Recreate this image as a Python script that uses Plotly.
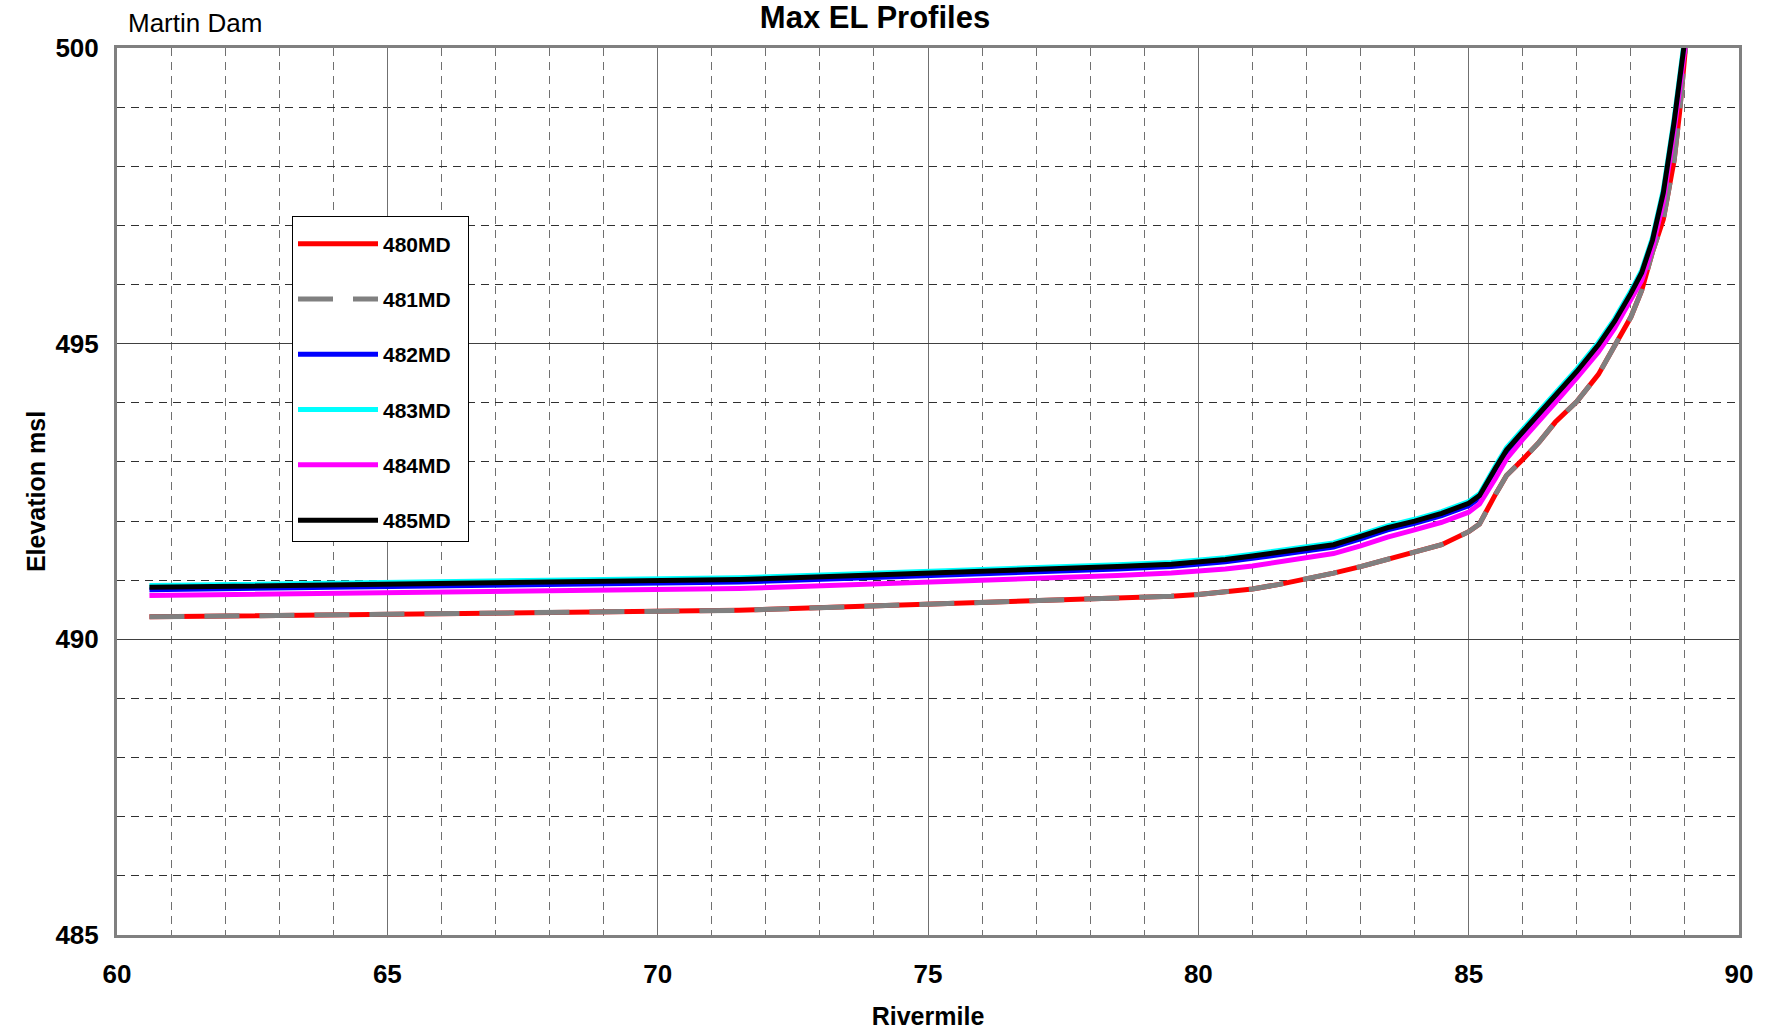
import plotly.graph_objects as go

rivermile = [60.6, 61.5, 62.5, 63.5, 64.5, 65.5, 66.5, 67.5, 68.5, 69.5, 70.5, 71.5, 72.5, 73.5,
             74.5, 75.5, 76.5, 77.5, 78.5, 79.5, 80.0, 80.5, 81.0, 81.5, 82.0, 82.5, 83.0, 83.5,
             84.0, 84.5, 85.0, 85.2, 85.5, 85.7, 86.0, 86.3, 86.6, 87.0, 87.4, 87.7, 88.0, 88.2,
             88.4, 88.6, 88.8, 88.9, 89.0, 89.05]

el_480 = [490.38, 490.39, 490.40, 490.41, 490.42, 490.43, 490.44, 490.45, 490.46, 490.46, 490.47,
          490.49, 490.52, 490.55, 490.58, 490.61, 490.63, 490.66, 490.69, 490.73, 490.76, 490.80,
          490.85, 490.93, 491.02, 491.12, 491.23, 491.36, 491.48, 491.60, 491.82, 491.95, 492.46,
          492.77, 493.04, 493.33, 493.67, 494.02, 494.48, 494.95, 495.45, 495.90, 496.55, 497.10,
          498.10, 498.90, 499.80, 500.40]
el_481 = [490.38, 490.39, 490.40, 490.41, 490.42, 490.43, 490.44, 490.45, 490.46, 490.46, 490.47,
          490.49, 490.52, 490.55, 490.58, 490.61, 490.63, 490.66, 490.69, 490.73, 490.76, 490.80,
          490.85, 490.93, 491.02, 491.12, 491.23, 491.36, 491.48, 491.60, 491.82, 491.95, 492.46,
          492.77, 493.04, 493.33, 493.67, 494.02, 494.48, 494.95, 495.45, 495.90, 496.55, 497.10,
          498.10, 498.90, 499.80, 500.40]
el_482 = [490.84, 490.85, 490.86, 490.87, 490.88, 490.89, 490.90, 490.91, 490.92, 490.93, 490.94,
          490.97, 491.00, 491.03, 491.06, 491.08, 491.11, 491.15, 491.19, 491.23, 491.26, 491.31,
          491.37, 491.43, 491.49, 491.56, 491.70, 491.85, 491.96, 492.09, 492.26, 492.39, 492.87,
          493.17, 493.48, 493.78, 494.09, 494.50, 494.95, 495.35, 495.82, 496.17, 496.72, 497.50,
          498.70, 499.35, 499.95, 500.45]
el_483 = [490.91, 490.92, 490.93, 490.94, 490.95, 490.96, 490.97, 490.98, 490.99, 491.00, 491.01,
          491.04, 491.07, 491.10, 491.13, 491.15, 491.18, 491.22, 491.26, 491.30, 491.33, 491.38,
          491.44, 491.50, 491.56, 491.63, 491.77, 491.92, 492.03, 492.16, 492.33, 492.46, 492.94,
          493.24, 493.55, 493.85, 494.16, 494.57, 495.02, 495.42, 495.89, 496.24, 496.79, 497.60,
          498.80, 499.45, 500.05, 500.55]
el_484 = [490.74, 490.75, 490.76, 490.77, 490.78, 490.79, 490.80, 490.81, 490.82, 490.83, 490.84,
          490.86, 490.89, 490.92, 490.95, 490.97, 491.00, 491.04, 491.08, 491.12, 491.15, 491.19,
          491.24, 491.31, 491.38, 491.45, 491.58, 491.73, 491.85, 491.98, 492.15, 492.29, 492.73,
          493.05, 493.38, 493.68, 494.00, 494.42, 494.86, 495.26, 495.73, 496.07, 496.62, 497.40,
          498.60, 499.25, 499.85, 500.35]
el_485 = [490.88, 490.89, 490.90, 490.91, 490.92, 490.93, 490.94, 490.95, 490.96, 490.97, 490.98,
          491.01, 491.04, 491.07, 491.10, 491.12, 491.15, 491.19, 491.23, 491.27, 491.30, 491.35,
          491.41, 491.47, 491.53, 491.60, 491.74, 491.89, 492.00, 492.13, 492.30, 492.43, 492.90,
          493.20, 493.51, 493.81, 494.12, 494.53, 494.98, 495.38, 495.85, 496.20, 496.75, 497.55,
          498.75, 499.40, 500.00, 500.50]

series_names = ["480MD", "481MD", "482MD", "483MD", "484MD", "485MD"]
series_values = [el_480, el_481, el_482, el_483, el_484, el_485]
series_colors = ["#ff0000", "#808080", "#0000ff", "#00ffff", "#ff00ff", "#000000"]
series_dash = ["solid", "35px,20px", "solid", "solid", "solid", "solid"]

FONT = "Liberation Sans, Arial, sans-serif"

fig = go.Figure()
for name, vals, col, dash in zip(series_names, series_values, series_colors, series_dash):
    fig.add_trace(go.Scatter(
        x=rivermile, y=vals, mode="lines", name=name + "&nbsp;&nbsp;", legendgroup=name,
        line=dict(color=col, width=5, dash=dash),
    ))

fig.update_layout(
    width=1773, height=1036,
    margin=dict(l=117, r=34, t=48, b=101, autoexpand=False),
    paper_bgcolor="white", plot_bgcolor="white",
    font=dict(family=FONT, color="black"),
    title=dict(text="<b>Max EL Profiles</b>", x=875 / 1773, xanchor="center",
               y=1 - 17.5 / 1036, yanchor="middle", yref="container",
               font=dict(size=31, family=FONT, color="black")),
    showlegend=True,
    legend=dict(x=(292 - 117) / 1622, y=(935 - 216) / 887, xanchor="left", yanchor="top",
                bgcolor="white", bordercolor="black", borderwidth=1,
                font=dict(size=21, family=FONT, color="black", weight="bold"),
                title=dict(text="&nbsp;", font=dict(size=5, family=FONT)),
                traceorder="grouped", tracegroupgap=25, itemwidth=80),
    annotations=[dict(text="Martin Dam", xref="paper", yref="paper",
                      x=(126 - 117) / 1622, y=(935 - 23) / 887, xanchor="left", yanchor="middle",
                      showarrow=False, font=dict(size=26, family=FONT, color="black"))],
)

fig.update_xaxes(
    range=[60, 90], dtick=5, tick0=60, automargin=False,
    showline=True, mirror=True, linecolor="#808080", linewidth=3,
    showgrid=True, gridcolor="#707070", gridwidth=1,
    minor=dict(dtick=1, showgrid=True, gridcolor="#707070", griddash="8px,6px", gridwidth=1),
    ticks="outside", ticklen=14, tickcolor="rgba(0,0,0,0)",
    tickfont=dict(size=26, family=FONT, color="black", weight="bold"),
    title=dict(text="<b>Rivermile</b>", font=dict(size=25, family=FONT, color="black"), standoff=20),
    zeroline=False,
)
fig.update_yaxes(
    range=[485, 500], dtick=5, tick0=485, automargin=False,
    showline=True, mirror=True, linecolor="#808080", linewidth=3,
    showgrid=True, gridcolor="#404040", gridwidth=1,
    minor=dict(dtick=1, showgrid=True, gridcolor="#303030", griddash="8px,6px", gridwidth=1),
    ticks="outside", ticklen=10, tickcolor="rgba(0,0,0,0)",
    tickfont=dict(size=26, family=FONT, color="black", weight="bold"),
    title=dict(text="<b>Elevation msl</b>", font=dict(size=25, family=FONT, color="black"), standoff=3),
    zeroline=False,
)

fig.write_html("out.html")
